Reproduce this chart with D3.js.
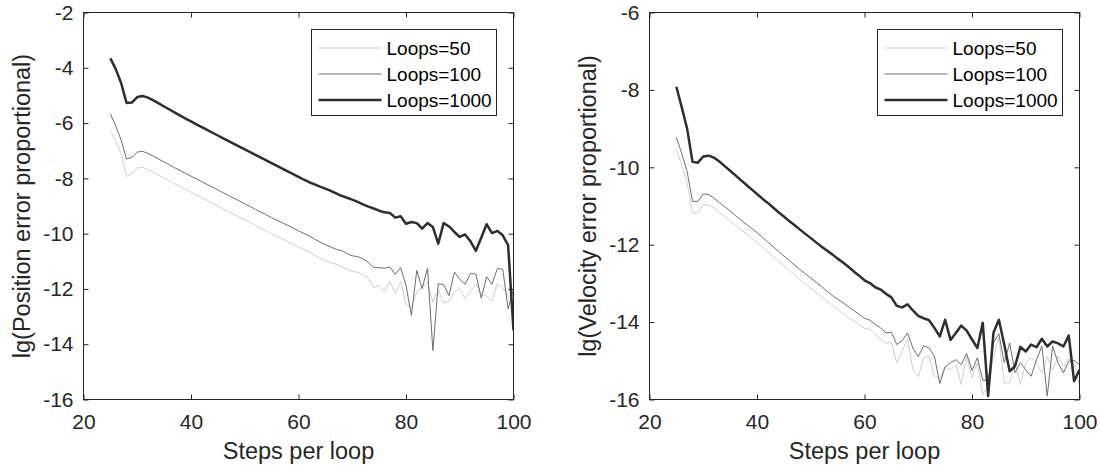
<!DOCTYPE html>
<html>
<head>
<meta charset="utf-8">
<script src="https://cdn.jsdelivr.net/npm/d3@7"></script>
<style>
  body { margin: 0; background: #fff; }
  svg { display: block; font-family: 'Liberation Sans', Arial, sans-serif; }
</style>
</head>
<body>
<svg id="chart"></svg>
<script>

// steps per loop (x)
const steps = [25,26,27,28,29,30,31,32,33,34,35,36,37,38,39,40,41,42,43,44,45,46,47,48,49,50,
    51,52,53,54,55,56,57,58,59,60,61,62,63,64,65,66,67,68,69,70,71,72,73,74,75,76,77,78,79,80,
    81,82,83,84,85,86,87,88,89,90,91,92,93,94,95,96,97,98,99,100];

// lg(position error) per loop count
const posLoops50 = [-6.28,-6.65,-7.10,-7.93,-7.82,-7.63,-7.60,-7.68,-7.78,-7.88,
    -7.99,-8.09,-8.20,-8.30,-8.40,-8.50,-8.60,-8.70,-8.80,-8.90,
    -9.00,-9.10,-9.20,-9.30,-9.40,-9.50,-9.60,-9.70,-9.80,-9.90,
    -10.00,-10.10,-10.19,-10.28,-10.38,-10.48,-10.57,-10.66,-10.78,-10.88,
    -10.98,-11.05,-11.11,-11.18,-11.30,-11.36,-11.40,-11.47,-11.62,-11.96,
    -11.87,-12.12,-11.72,-12.17,-11.72,-12.54,-12.68,-12.12,-11.93,-11.75,
    -12.48,-12.03,-12.51,-12.44,-12.12,-11.99,-12.36,-12.08,-11.81,-12.20,
    -12.27,-12.45,-11.81,-11.96,-12.24,-12.50];
const posLoops100 = [-5.67,-6.10,-6.62,-7.30,-7.24,-7.05,-7.02,-7.10,-7.20,-7.30,
    -7.41,-7.51,-7.62,-7.72,-7.82,-7.92,-8.02,-8.12,-8.22,-8.32,
    -8.42,-8.52,-8.62,-8.72,-8.82,-8.92,-9.02,-9.12,-9.22,-9.32,
    -9.42,-9.52,-9.61,-9.70,-9.80,-9.90,-9.99,-10.08,-10.20,-10.30,
    -10.40,-10.48,-10.57,-10.61,-10.72,-10.80,-10.83,-10.91,-11.04,-11.23,
    -11.23,-11.25,-11.21,-11.47,-11.23,-11.87,-12.96,-11.33,-11.99,-11.25,
    -14.23,-11.81,-11.84,-12.24,-11.39,-11.65,-11.83,-11.44,-11.46,-12.34,
    -11.56,-11.83,-11.26,-11.29,-12.72,-12.00];
const posLoops1000 = [-3.66,-4.05,-4.55,-5.27,-5.26,-5.06,-5.02,-5.08,-5.18,-5.29,
    -5.40,-5.51,-5.62,-5.73,-5.84,-5.94,-6.05,-6.15,-6.25,-6.35,
    -6.45,-6.55,-6.65,-6.75,-6.85,-6.95,-7.05,-7.15,-7.25,-7.35,
    -7.45,-7.55,-7.65,-7.75,-7.85,-7.95,-8.05,-8.14,-8.22,-8.30,
    -8.37,-8.45,-8.54,-8.63,-8.70,-8.77,-8.85,-8.94,-9.02,-9.09,
    -9.17,-9.23,-9.25,-9.42,-9.37,-9.64,-9.58,-9.62,-9.82,-9.62,
    -9.76,-10.36,-9.62,-9.74,-9.94,-10.12,-10.03,-10.28,-10.62,-10.15,
    -9.66,-9.98,-9.90,-10.06,-10.42,-13.50];

// lg(velocity error) per loop count
const velLoops50 = [-9.53,-9.95,-10.40,-11.17,-11.17,-10.98,-10.97,-11.05,-11.17,-11.28,
    -11.39,-11.50,-11.61,-11.72,-11.83,-11.94,-12.06,-12.18,-12.30,-12.42,
    -12.54,-12.66,-12.78,-12.90,-13.01,-13.12,-13.23,-13.34,-13.46,-13.57,
    -13.68,-13.78,-13.88,-13.97,-14.06,-14.16,-14.19,-14.32,-14.44,-14.54,
    -14.52,-15.05,-14.75,-14.43,-15.23,-15.41,-14.92,-14.88,-15.40,-15.45,
    -15.14,-15.24,-15.10,-15.61,-14.88,-15.44,-15.05,-15.87,-15.66,-14.88,
    -14.40,-15.57,-15.57,-15.05,-15.61,-15.05,-14.92,-15.05,-15.31,-14.88,
    -15.23,-14.88,-15.14,-14.95,-15.05,-15.66];
const velLoops100 = [-9.22,-9.65,-10.11,-10.88,-10.88,-10.69,-10.70,-10.80,-10.91,-11.02,
    -11.13,-11.25,-11.36,-11.47,-11.58,-11.69,-11.81,-11.93,-12.05,-12.17,
    -12.29,-12.41,-12.53,-12.64,-12.75,-12.86,-12.97,-13.08,-13.20,-13.31,
    -13.41,-13.50,-13.60,-13.70,-13.80,-13.90,-13.95,-14.06,-14.15,-14.28,
    -14.26,-14.58,-14.48,-14.28,-14.67,-14.89,-14.61,-14.67,-14.88,-15.59,
    -15.16,-15.05,-14.97,-15.10,-14.81,-15.25,-14.92,-15.50,-15.50,-14.54,
    -14.30,-15.05,-14.54,-15.31,-15.05,-15.23,-15.40,-14.97,-14.62,-15.91,
    -14.62,-15.05,-15.31,-15.01,-14.99,-15.10];
const velLoops1000 = [-7.92,-8.45,-9.00,-9.86,-9.88,-9.72,-9.70,-9.75,-9.85,-9.97,
    -10.09,-10.21,-10.33,-10.45,-10.57,-10.69,-10.81,-10.92,-11.04,-11.16,
    -11.27,-11.39,-11.50,-11.61,-11.72,-11.83,-11.94,-12.05,-12.15,-12.25,
    -12.36,-12.46,-12.57,-12.69,-12.80,-12.92,-12.99,-13.10,-13.16,-13.27,
    -13.36,-13.58,-13.62,-13.54,-13.70,-13.84,-13.90,-13.95,-14.15,-14.37,
    -13.94,-14.46,-14.28,-14.09,-14.22,-14.45,-14.67,-14.02,-15.91,-14.27,
    -13.94,-14.58,-15.27,-15.14,-14.64,-14.76,-14.58,-14.65,-14.43,-14.63,
    -14.50,-14.55,-14.63,-14.35,-15.53,-15.23];

const seriesNames = ["Loops=50", "Loops=100", "Loops=1000"];
const xTicks    = [20, 40, 60, 80, 100];
const posTicks  = [-16, -14, -12, -10, -8, -6, -4, -2];
const velTicks  = [-16, -14, -12, -10, -8, -6];

// line look per series (light -> dark)
const lineStyle = [
    {color: "#cfcfcf", width: 1},
    {color: "#6e6e6e", width: 1},
    {color: "#2e2e2e", width: 2.5},
];

// plain hyphen minus, like the original figure
const tickText = d => String(d);

class ErrorPlot {

    constructor(config, series) {
        this.config = {
            parent : config.parent,
            left   : config.left,
            top    : config.top    || 12.5,
            width  : config.width  || 430,
            height : config.height || 387,
            yDomain: config.yDomain,
            yTicks : config.yTicks,
            ylabel : config.ylabel,
            xlabel : config.xlabel || "Steps per loop",
            id     : config.id,
        };
        this.series = series;
        this.init();
    }

    init() {
        let self = this;
        self.chart = self.config.parent.append('g')
            .attr('transform', `translate(${self.config.left}, ${self.config.top})`);

        self.chart.append('clipPath').attr('id', 'clip-' + self.config.id)
            .append('rect')
            .attr('width', self.config.width)
            .attr('height', self.config.height);
    }

    update() {
        let self = this;
        self.x = d3.scaleLinear().domain([20, 100]).range([0, self.config.width]);
        self.y = d3.scaleLinear().domain(self.config.yDomain).range([self.config.height, 0]);
        self.line = d3.line()
            .x((d, i) => self.x(steps[i]))
            .y(d => self.y(d));
        self.render();
    }

    render() {
        let self = this;
        const W = self.config.width, H = self.config.height;
        const tickColor = "#262626";

        // lines
        self.chart.append('g')
            .attr('clip-path', `url(#clip-${self.config.id})`)
            .selectAll('path')
            .data(self.series)
            .enter()
            .append('path')
            .attr('d', d => self.line(d))
            .attr('fill', 'none')
            .attr('stroke', (d, i) => lineStyle[i].color)
            .attr('stroke-width', (d, i) => lineStyle[i].width)
            .attr('stroke-linejoin', 'round');

        // axes (ticks pointing inward)
        const bottom = self.chart.append('g')
            .attr('transform', `translate(0, ${H})`)
            .call(d3.axisBottom(self.x).tickValues(xTicks).tickFormat(tickText)
                .tickSizeInner(-5).tickSizeOuter(0).tickPadding(15));
        const left = self.chart.append('g')
            .call(d3.axisLeft(self.y).tickValues(self.config.yTicks).tickFormat(tickText)
                .tickSizeInner(-5).tickSizeOuter(0).tickPadding(10));
        const top = self.chart.append('g')
            .call(d3.axisTop(self.x).tickValues(xTicks).tickSizeInner(-5).tickSizeOuter(0).tickFormat(''));
        const right = self.chart.append('g')
            .attr('transform', `translate(${W}, 0)`)
            .call(d3.axisRight(self.y).tickValues(self.config.yTicks).tickSizeInner(-5).tickSizeOuter(0).tickFormat(''));

        [bottom, left, top, right].forEach(a => {
            a.select('.domain').remove();
            a.selectAll('line').attr('stroke', tickColor);
            a.selectAll('text')
                .style('font-size', '21px')
                .attr('fill', tickColor)
                .style('font-family', "'Liberation Sans', Arial, sans-serif");
        });

        // box
        self.chart.append('rect')
            .attr('width', W)
            .attr('height', H)
            .attr('fill', 'none')
            .attr('stroke', tickColor)
            .attr('stroke-width', 1);

        // labels
        self.chart.append('text')
            .style('font-size', '23.5px')
            .attr('fill', tickColor)
            .attr('x', W / 2)
            .attr('y', H + 59)
            .attr('text-anchor', 'middle')
            .text(self.config.xlabel);

        self.chart.append('text')
            .style('font-size', '23.5px')
            .attr('fill', tickColor)
            .attr('transform', `translate(${-54}, ${H / 2}) rotate(-90)`)
            .attr('text-anchor', 'middle')
            .text(self.config.ylabel);

        // legend
        const lw = 185, lh = 86;
        const legend = self.chart.append('g')
            .attr('transform', `translate(${W - 17 - lw}, 17)`);
        legend.append('rect')
            .attr('width', lw).attr('height', lh)
            .attr('fill', '#fff')
            .attr('stroke', tickColor)
            .attr('stroke-width', 1);
        const rows = legend.selectAll('g.row')
            .data(seriesNames)
            .enter()
            .append('g')
            .attr('transform', (d, i) => `translate(0, ${18.5 + i * 26})`);
        rows.append('line')
            .attr('x1', 7).attr('x2', 70)
            .attr('stroke', (d, i) => lineStyle[i].color)
            .attr('stroke-width', (d, i) => lineStyle[i].width);
        rows.append('text')
            .attr('x', 75)
            .attr('dy', '0.35em')
            .style('font-size', '19px')
            .attr('fill', '#000')
            .text(d => d);
    }
}

const svg = d3.select('#chart')
    .attr('width', 1100)
    .attr('height', 473);

svg.append('rect').attr('width', 1100).attr('height', 473).attr('fill', '#fff');

const posPlot = new ErrorPlot({
    parent : svg,
    id     : 'pos',
    left   : 83.5,
    yDomain: [-16, -2],
    yTicks : posTicks,
    ylabel : "lg(Position error proportional)",
}, [posLoops50, posLoops100, posLoops1000]);
posPlot.update();

const velPlot = new ErrorPlot({
    parent : svg,
    id     : 'vel',
    left   : 649.5,
    yDomain: [-16, -6],
    yTicks : velTicks,
    ylabel : "lg(Velocity error proportional)",
}, [velLoops50, velLoops100, velLoops1000]);
velPlot.update();

</script>
</body>
</html>
